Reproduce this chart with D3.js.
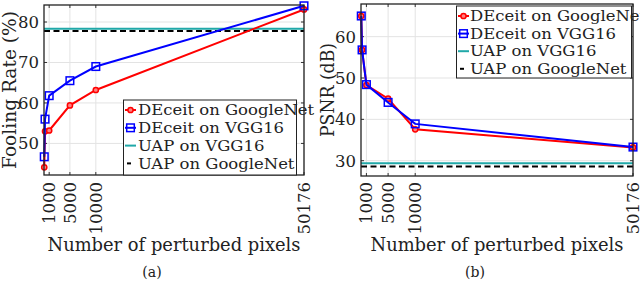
<!DOCTYPE html>
<html>
<head>
	<meta charset="utf-8" />
	<title>DEceit fooling rate and PSNR</title>
	<script src="https://d3js.org/d3.v7.min.js"></script>
	<style type="text/css">
		body { margin: 0; background: white; }
		text { font-family: "DejaVu Serif", serif; fill: #222; }
	</style>
</head>
<body>
	<script>
		// data
		const pixels = [50, 200, 1000, 5000, 10000, 50176];
		const xTicks = [1000, 5000, 10000, 50176];

		const foolGoogle = [44.1, 53.0, 53.2, 59.4, 63.2, 83.1];
		const foolVgg = [46.7, 56.0, 61.8, 65.5, 69.0, 84.0];
		const foolUapVgg = 78.35;
		const foolUapGoogle = 77.8;
		const foolTicks = [50, 60, 70, 80];

		const psnrGoogle = [65.0, 56.8, 48.3, 45.0, 37.6, 33.2];
		const psnrVgg = [65.0, 56.8, 48.4, 44.1, 38.9, 33.3];
		const psnrUapVgg = 29.4;
		const psnrUapGoogle = 28.6;
		const psnrTicks = [30, 40, 50, 60];

		const legendNames = ["DEceit on GoogleNet", "DEceit on VGG16", "UAP on VGG16", "UAP on GoogleNet"];

		const width = 640;
		const height = 281;
		const red = "#ff0000", blue = "#0000ff", teal = "#20a8a8";

		const svg = d3.select("body")
			.append("svg")
			.attr("width", width)
			.attr("height", height);

		// widen a text a bit, the original font is broader than DejaVu
		function stretch(sel, k) {
			sel.each(function () {
				const w = this.getComputedTextLength();
				d3.select(this).attr("textLength", w * k).attr("lengthAdjust", "spacingAndGlyphs");
			});
		}

		function panel(opt) {
			const x = d3.scaleLinear().domain([0, 50176]).range(opt.xr);
			const y = d3.scaleLinear().domain(opt.yd).range(opt.yr);
			const g = svg.append("g");
			const [x0, x1] = opt.xr, [y1, y0] = opt.yr;

			// grid
			g.selectAll(".gx").data(xTicks).enter().append("line")
				.attr("x1", d => x(d)).attr("x2", d => x(d))
				.attr("y1", y0).attr("y2", y1)
				.attr("stroke", "#e3e3e3").attr("stroke-width", 1);
			g.selectAll(".gy").data(opt.yTicks).enter().append("line")
				.attr("x1", x0).attr("x2", x1)
				.attr("y1", d => y(d)).attr("y2", d => y(d))
				.attr("stroke", "#e3e3e3").attr("stroke-width", 1);

			// inward ticks
			xTicks.forEach(t => {
				g.append("line").attr("x1", x(t)).attr("x2", x(t)).attr("y1", y1).attr("y2", y1 - 3).attr("stroke", "#333");
				g.append("line").attr("x1", x(t)).attr("x2", x(t)).attr("y1", y0).attr("y2", y0 + 3).attr("stroke", "#333");
			});
			opt.yTicks.forEach(t => {
				g.append("line").attr("x1", x0).attr("x2", x0 + 3).attr("y1", y(t)).attr("y2", y(t)).attr("stroke", "#333");
				g.append("line").attr("x1", x1).attr("x2", x1 - 3).attr("y1", y(t)).attr("y2", y(t)).attr("stroke", "#333");
			});

			// tick labels
			g.selectAll(".ty").data(opt.yTicks).enter().append("text")
				.attr("x", x0 - 5).attr("y", d => y(d))
				.attr("dy", "0.36em")
				.attr("text-anchor", "end")
				.style("font-size", "16.5px")
				.text(d => d);
			g.selectAll(".tx").data(xTicks).enter().append("text")
				.attr("transform", d => "translate(" + (x(d) + 6) + "," + 182 + ") rotate(-90)")
				.attr("text-anchor", "end")
				.style("font-size", "16.5px")
				.text(d => d);

			// axis labels
			g.append("text")
				.attr("transform", "translate(" + opt.ylx + "," + ((y0 + y1) / 2) + ") rotate(-90)")
				.attr("text-anchor", "middle")
				.attr("textLength", opt.ylen)
				.attr("lengthAdjust", "spacingAndGlyphs")
				.style("font-size", "18px")
				.text(opt.ylabel);
			g.append("text")
				.attr("x", (x0 + x1) / 2).attr("y", 251)
				.attr("text-anchor", "middle")
				.attr("textLength", 253)
				.attr("lengthAdjust", "spacingAndGlyphs")
				.style("font-size", "18px")
				.text("Number of perturbed pixels");
			g.append("text")
				.attr("x", opt.capx).attr("y", 276.5)
				.attr("text-anchor", "middle")
				.style("font-size", "14px")
				.text(opt.caption);

			// reference lines
			g.append("line").attr("x1", x0).attr("x2", x1)
				.attr("y1", y(opt.uapVgg)).attr("y2", y(opt.uapVgg))
				.attr("stroke", teal).attr("stroke-width", 2);
			g.append("line").attr("x1", x0).attr("x2", x1)
				.attr("y1", y(opt.uapGoogle)).attr("y2", y(opt.uapGoogle))
				.attr("stroke", "#000").attr("stroke-width", 2)
				.attr("stroke-dasharray", "6,3.5");

			const line = d3.line().x((d, i) => x(pixels[i])).y(d => y(d));
			g.append("path").datum(opt.google)
				.attr("d", line).attr("fill", "none")
				.attr("stroke", red).attr("stroke-width", 2);
			g.selectAll(".cg").data(opt.google).enter().append("circle")
				.attr("cx", (d, i) => x(pixels[i])).attr("cy", d => y(d))
				.attr("r", 2.6).attr("fill", "#ff8080")
				.attr("stroke", red).attr("stroke-width", 1.5);
			g.append("path").datum(opt.vgg)
				.attr("d", line).attr("fill", "none")
				.attr("stroke", blue).attr("stroke-width", 2);
			g.selectAll(".sv").data(opt.vgg).enter().append("rect")
				.attr("x", (d, i) => x(pixels[i]) - 3.8).attr("y", d => y(d) - 3.8)
				.attr("width", 7.6).attr("height", 7.6)
				.attr("fill", "none")
				.attr("stroke", blue).attr("stroke-width", 1.5);

			// box
			g.append("rect").attr("x", x0).attr("y", y0)
				.attr("width", x1 - x0).attr("height", y1 - y0)
				.attr("fill", "none").attr("stroke", "#222").attr("stroke-width", 1.3);

			// legend
			const L = opt.legend;
			const lg = g.append("g");
			lg.append("rect").attr("x", L.x).attr("y", L.y)
				.attr("width", L.w).attr("height", L.h)
				.attr("fill", "white").attr("stroke", "#222").attr("stroke-width", 1);
			legendNames.forEach((name, i) => {
				const cy = L.y + 10 + i * L.step;
				const ix = L.x + 1.5, iw = 11;
				if (i === 0) {
					lg.append("line").attr("x1", ix).attr("x2", ix + iw).attr("y1", cy).attr("y2", cy).attr("stroke", red).attr("stroke-width", 2);
					lg.append("circle").attr("cx", ix + iw / 2).attr("cy", cy).attr("r", 2.6).attr("fill", "#ff8080").attr("stroke", red).attr("stroke-width", 1.5);
				} else if (i === 1) {
					lg.append("line").attr("x1", ix).attr("x2", ix + iw).attr("y1", cy).attr("y2", cy).attr("stroke", blue).attr("stroke-width", 2);
					lg.append("rect").attr("x", ix + iw / 2 - 3.8).attr("y", cy - 3.8).attr("width", 7.6).attr("height", 7.6).attr("fill", "none").attr("stroke", blue).attr("stroke-width", 1.5);
				} else if (i === 2) {
					lg.append("line").attr("x1", ix).attr("x2", ix + iw).attr("y1", cy).attr("y2", cy).attr("stroke", teal).attr("stroke-width", 2);
				} else {
					lg.append("line").attr("x1", ix + 2).attr("x2", ix + 6).attr("y1", cy).attr("y2", cy).attr("stroke", "#000").attr("stroke-width", 2);
				}
				lg.append("text")
					.attr("x", L.x + L.tx).attr("y", cy)
					.attr("dy", "0.36em")
					.style("font-size", L.fs + "px")
					.text(name)
					.call(stretch, 1.12);
			});
		}

		panel({
			xr: [44, 304], yd: [42.2, 84.2], yr: [175, 5],
			yTicks: foolTicks, ylabel: "Fooling Rate (%)", ylx: 16, ylen: 158,
			google: foolGoogle, vgg: foolVgg,
			uapVgg: foolUapVgg, uapGoogle: foolUapGoogle,
			caption: "(a)", capx: 152,
			legend: {x: 123.5, y: 100, w: 173, h: 75, step: 17.8, tx: 14.5, fs: 14.7}
		});

		panel({
			xr: [361, 633], yd: [26.3, 67.9], yr: [176, 4],
			yTicks: psnrTicks, ylabel: "PSNR (dB)", ylx: 334, ylen: 94,
			google: psnrGoogle, vgg: psnrVgg,
			uapVgg: psnrUapVgg, uapGoogle: psnrUapGoogle,
			caption: "(b)", capx: 475,
			legend: {x: 456.5, y: 6, w: 175, h: 72, step: 17.6, tx: 13.5, fs: 14.7}
		});
	</script>
</body>
</html>
